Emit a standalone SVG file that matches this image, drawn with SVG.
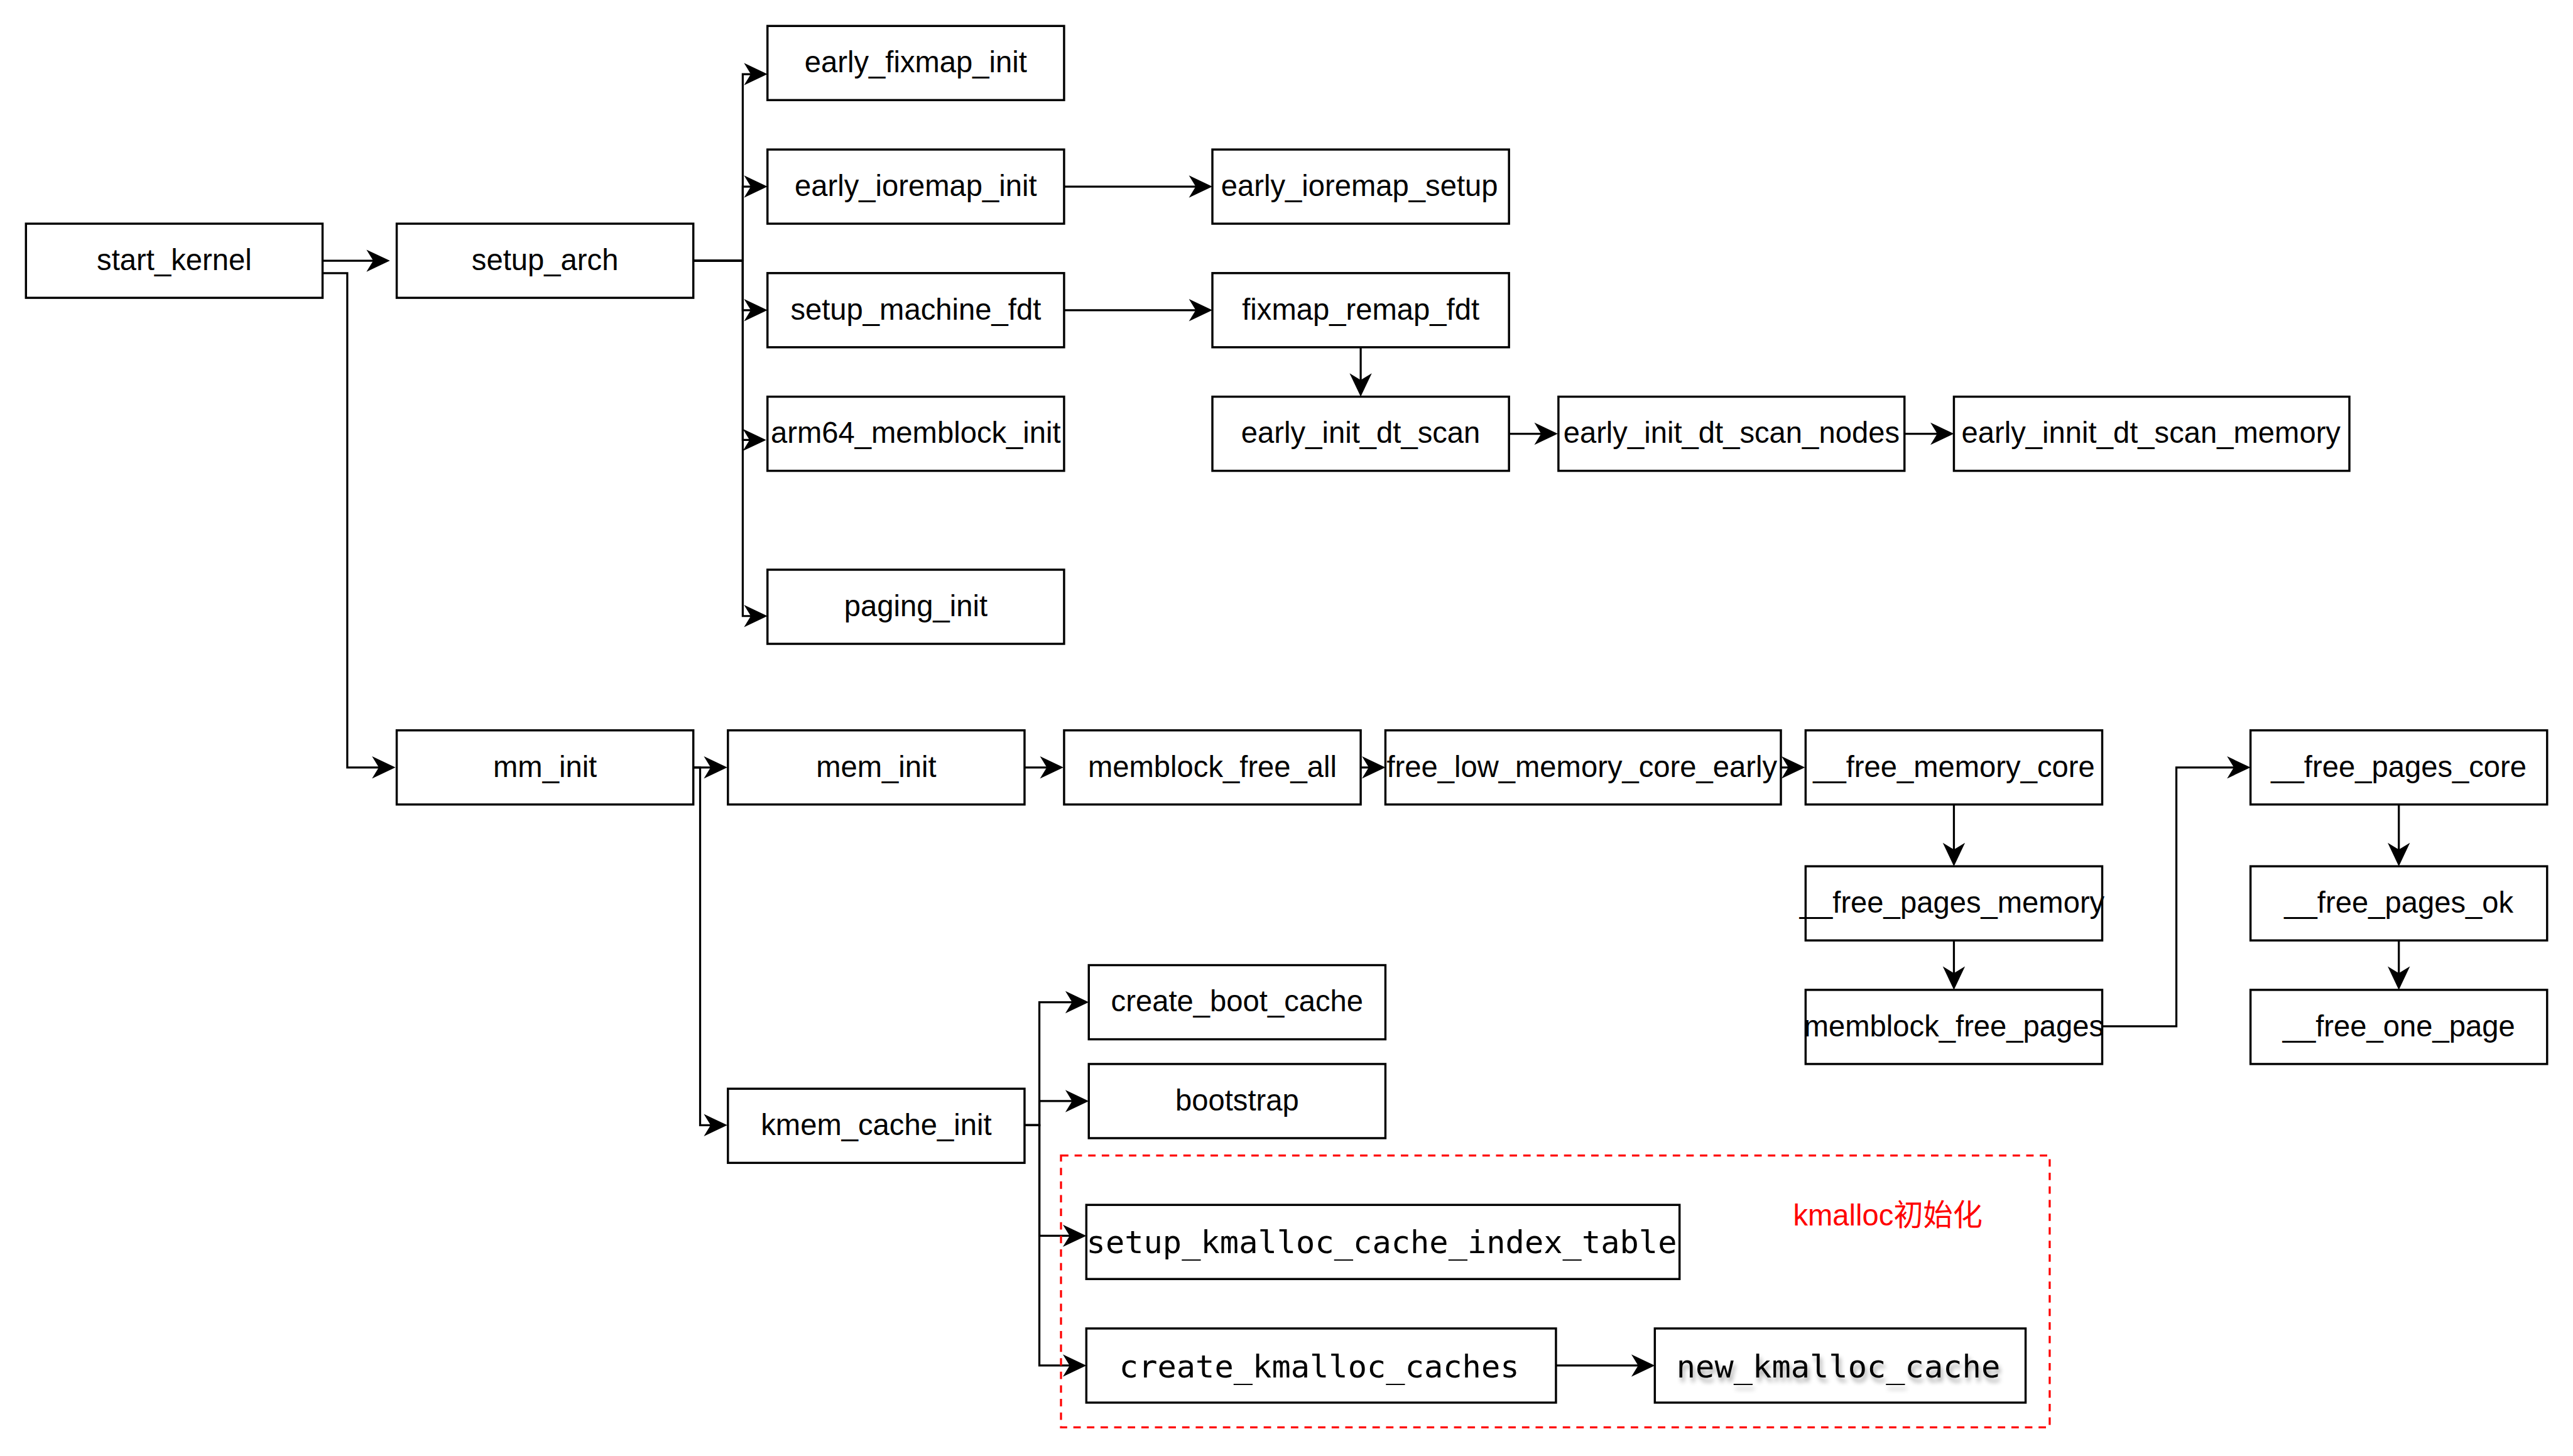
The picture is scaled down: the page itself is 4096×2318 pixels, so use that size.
<svg xmlns="http://www.w3.org/2000/svg" width="4096" height="2318" viewBox="0 0 4096 2318">
<style>
.box{fill:#fff;stroke:#000;stroke-width:3.5}
.t{font-family:"Liberation Sans",Arial,sans-serif;font-size:48px;fill:#000;text-anchor:middle}
.m{font-family:"DejaVu Sans Mono","Liberation Mono",monospace;font-size:51.2px;fill:#000;text-anchor:middle}
.e{fill:none;stroke:#000;stroke-width:3.3;marker-end:url(#ah)}
.red{font-family:"Liberation Sans",Arial,"Noto Sans CJK SC",sans-serif;font-size:48px;fill:#ff0000;text-anchor:middle}
</style>
<defs>
<marker id="ah" viewBox="-40 -20 48 40" refX="0" refY="0" markerWidth="48" markerHeight="40" markerUnits="userSpaceOnUse" orient="auto">
<path d="M5,0 L-33,-18 L-22,0 L-33,18 Z" fill="#000"/>
</marker>
<filter id="ts" x="-10%" y="-40%" width="120%" height="180%">
<feGaussianBlur in="SourceAlpha" stdDeviation="4"/>
<feOffset dx="3" dy="7" result="o"/>
<feComponentTransfer><feFuncA type="linear" slope="0.35"/></feComponentTransfer>
<feMerge><feMergeNode/><feMergeNode in="SourceGraphic"/></feMerge>
</filter>
</defs>
<rect width="4096" height="2318" fill="#fff"/>
<g transform="scale(0.9837)">
<g id="connectors">
<path class="e" d="M522,422 H626"/>
<path class="e" d="M522,442 H562 V1242 H635"/>
<path class="e" d="M1122,422 H1202 V120 H1237"/>
<path class="e" d="M1122,422 H1202 V302 H1237"/>
<path class="e" d="M1122,422 H1202 V502 H1237"/>
<path class="e" d="M1122,422 H1202 V712 H1235"/>
<path class="e" d="M1122,422 H1202 V997 H1237"/>
<path class="e" d="M1722,302 H1957"/>
<path class="e" d="M1722,502 H1957"/>
<path class="e" d="M2202,562 V637"/>
<path class="e" d="M2442,702 H2516"/>
<path class="e" d="M3082,702 H3157"/>
<path class="e" d="M1122,1242 H1172"/>
<path class="e" d="M1122,1242 H1133 V1821 H1172"/>
<path class="e" d="M1658,1242 H1716"/>
<path class="e" d="M2202,1242 H2237"/>
<path class="e" d="M2882,1242 H2916"/>
<path class="e" d="M3162,1302 V1397"/>
<path class="e" d="M3162,1522 V1597"/>
<path class="e" d="M3402,1661 H3522 V1242 H3637"/>
<path class="e" d="M3882,1302 V1397"/>
<path class="e" d="M3882,1522 V1597"/>
<path class="e" d="M1658,1821 H1682 V1622 H1757"/>
<path class="e" d="M1658,1821 H1682 V1782 H1757"/>
<path class="e" d="M1658,1821 H1682 V2000 H1753"/>
<path class="e" d="M1658,1821 H1682 V2210 H1753"/>
<path class="e" d="M2518,2210 H2673"/>
</g>
<g id="kmalloc-group">
<rect x="1717" y="1870" width="1600" height="440" fill="none" stroke="#ff0000" stroke-width="3.3" stroke-dasharray="12 10"/>
<text class="red" x="3055" y="1983">kmalloc初始化</text>
</g>
<g id="start_kernel"><rect class="box" x="42" y="362" width="480" height="120"/><text class="t" x="282" y="437">start_kernel</text></g>
<g id="setup_arch"><rect class="box" x="642" y="362" width="480" height="120"/><text class="t" x="882" y="437">setup_arch</text></g>
<g id="early_fixmap_init"><rect class="box" x="1242" y="42" width="480" height="120"/><text class="t" x="1482" y="117">early_fixmap_init</text></g>
<g id="early_ioremap_init"><rect class="box" x="1242" y="242" width="480" height="120"/><text class="t" x="1482" y="317">early_ioremap_init</text></g>
<g id="setup_machine_fdt"><rect class="box" x="1242" y="442" width="480" height="120"/><text class="t" x="1482" y="517">setup_machine_fdt</text></g>
<g id="arm64_memblock_init"><rect class="box" x="1242" y="642" width="480" height="120"/><text class="t" x="1482" y="717">arm64_memblock_init</text></g>
<g id="paging_init"><rect class="box" x="1242" y="922" width="480" height="120"/><text class="t" x="1482" y="997">paging_init</text></g>
<g id="early_ioremap_setup"><rect class="box" x="1962" y="242" width="480" height="120"/><text class="t" x="2200" y="317">early_ioremap_setup</text></g>
<g id="fixmap_remap_fdt"><rect class="box" x="1962" y="442" width="480" height="120"/><text class="t" x="2202" y="517">fixmap_remap_fdt</text></g>
<g id="early_init_dt_scan"><rect class="box" x="1962" y="642" width="480" height="120"/><text class="t" x="2202" y="717">early_init_dt_scan</text></g>
<g id="early_init_dt_scan_nodes"><rect class="box" x="2522" y="642" width="560" height="120"/><text class="t" x="2802" y="717">early_init_dt_scan_nodes</text></g>
<g id="early_innit_dt_scan_memory"><rect class="box" x="3162" y="642" width="640" height="120"/><text class="t" x="3481" y="717">early_innit_dt_scan_memory</text></g>
<g id="mm_init"><rect class="box" x="642" y="1182" width="480" height="120"/><text class="t" x="882" y="1257">mm_init</text></g>
<g id="mem_init"><rect class="box" x="1178" y="1182" width="480" height="120"/><text class="t" x="1418" y="1257">mem_init</text></g>
<g id="memblock_free_all"><rect class="box" x="1722" y="1182" width="480" height="120"/><text class="t" x="1962" y="1257">memblock_free_all</text></g>
<g id="free_low_memory_core_early"><rect class="box" x="2242" y="1182" width="640" height="120"/><text class="t" x="2560" y="1257">free_low_memory_core_early</text></g>
<g id="__free_memory_core"><rect class="box" x="2922" y="1182" width="480" height="120"/><text class="t" x="3162" y="1257">__free_memory_core</text></g>
<g id="__free_pages_memory"><rect class="box" x="2922" y="1402" width="480" height="120"/><text class="t" x="3159" y="1477">__free_pages_memory</text></g>
<g id="memblock_free_pages"><rect class="box" x="2922" y="1602" width="480" height="120"/><text class="t" x="3162" y="1677">memblock_free_pages</text></g>
<g id="__free_pages_core"><rect class="box" x="3642" y="1182" width="480" height="120"/><text class="t" x="3882" y="1257">__free_pages_core</text></g>
<g id="__free_pages_ok"><rect class="box" x="3642" y="1402" width="480" height="120"/><text class="t" x="3882" y="1477">__free_pages_ok</text></g>
<g id="__free_one_page"><rect class="box" x="3642" y="1602" width="480" height="120"/><text class="t" x="3882" y="1677">__free_one_page</text></g>
<g id="create_boot_cache"><rect class="box" x="1762" y="1562" width="480" height="120"/><text class="t" x="2002" y="1637">create_boot_cache</text></g>
<g id="bootstrap"><rect class="box" x="1762" y="1722" width="480" height="120"/><text class="t" x="2002" y="1797">bootstrap</text></g>
<g id="kmem_cache_init"><rect class="box" x="1178" y="1762" width="480" height="120"/><text class="t" x="1418" y="1837">kmem_cache_init</text></g>
<g id="setup_kmalloc_cache_index_table"><rect class="box" x="1758" y="1950" width="960" height="120"/><text class="m" x="2236" y="2028">setup_kmalloc_cache_index_table</text></g>
<g id="create_kmalloc_caches"><rect class="box" x="1758" y="2150" width="760" height="120"/><text class="m" x="2135" y="2229">create_kmalloc_caches</text></g>
<g id="new_kmalloc_cache"><rect class="box" x="2678" y="2150" width="600" height="120"/><text class="m" x="2975" y="2229" filter="url(#ts)">new_kmalloc_cache</text></g>
</g>
</svg>
